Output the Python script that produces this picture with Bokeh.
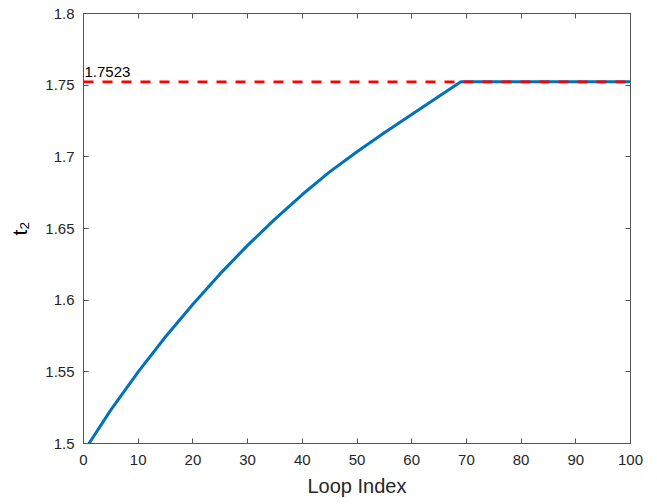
from bokeh.plotting import figure
from bokeh.models import LinearAxis, FixedTicker, Range1d, CustomJSTickFormatter, Label, Span
from bokeh.embed import file_html
from bokeh.resources import INLINE

# ---- data ----
loop_index = [1, 5, 10, 15, 20, 25, 30, 35, 40, 45, 50, 55, 60, 65, 69,
              70, 75, 80, 85, 90, 95, 100]
t2_values = [1.5000, 1.5235, 1.5500, 1.5745, 1.5972, 1.6185, 1.6382, 1.6565,
             1.6737, 1.6895, 1.7036, 1.7168, 1.7296, 1.7422, 1.7523,
             1.7523, 1.7523, 1.7523, 1.7523, 1.7523, 1.7523, 1.7523]
threshold = 1.7523
threshold_text = "1.7523"
x_ticks = [0, 10, 20, 30, 40, 50, 60, 70, 80, 90, 100]
y_ticks = [1.5, 1.55, 1.6, 1.65, 1.7, 1.75, 1.8]
y_tick_labels = ["1.5", "1.55", "1.6", "1.65", "1.7", "1.75", "1.8"]
x_label = "Loop Index"
y_label = "t\u2082"

FONT = "Liberation Sans"
AX = "#555555"
TXT = "#262626"

p = figure(width=649, height=504, output_backend="svg", toolbar_location=None,
           x_range=Range1d(0, 100), y_range=Range1d(1.5, 1.8),
           min_border_left=83, min_border_right=19, min_border_top=13, min_border_bottom=61)
p.background_fill_color = "white"
p.border_fill_color = "white"
p.outline_line_color = AX
p.outline_line_width = 1
p.xgrid.visible = False
p.ygrid.visible = False

p.line(loop_index, t2_values, line_color="#0072BD", line_width=3)

p.add_layout(Span(location=threshold, dimension="width", line_color="#FF0000",
                  line_width=2.6, line_dash="10 9"))
p.add_layout(Label(x=0, y=threshold, text=threshold_text, x_offset=1, y_offset=5,
                   text_baseline="bottom", text_align="left", text_font=FONT,
                   text_font_size="15px", text_color="#000000"))

def style_axis(ax):
    ax.axis_line_color = AX
    ax.major_tick_line_color = AX
    ax.minor_tick_line_color = None
    ax.major_tick_in = 5
    ax.major_tick_out = 0
    ax.major_label_text_font = FONT
    ax.major_label_text_font_size = "15px"
    ax.major_label_text_color = TXT
    ax.axis_label_text_font = FONT
    ax.axis_label_text_font_style = "normal"
    ax.axis_label_text_color = TXT
    ax.axis_label_text_font_size = "20px"

xa = p.xaxis[0]
ya = p.yaxis[0]
xa.ticker = FixedTicker(ticks=x_ticks)
ya.ticker = FixedTicker(ticks=y_ticks)
style_axis(xa)
style_axis(ya)
ya.major_label_overrides = {v: s for v, s in zip(y_ticks, y_tick_labels)}
xa.axis_label = x_label
ya.axis_label = y_label
ya.axis_label_text_font_size = "21px"
ya.axis_label_text_color = "#000000"
xa.major_label_standoff = 11
ya.major_label_standoff = 9
xa.axis_label_standoff = 7
ya.axis_label_standoff = 11

blank = CustomJSTickFormatter(code="return ''")
top = LinearAxis(ticker=FixedTicker(ticks=x_ticks), formatter=blank, major_label_standoff=0)
right = LinearAxis(ticker=FixedTicker(ticks=y_ticks), formatter=blank, major_label_standoff=0)
style_axis(top)
style_axis(right)
top.major_label_text_font_size = "1px"
right.major_label_text_font_size = "1px"
p.add_layout(top, "above")
p.add_layout(right, "right")

open("out.html", "w").write(file_html(p, INLINE))
